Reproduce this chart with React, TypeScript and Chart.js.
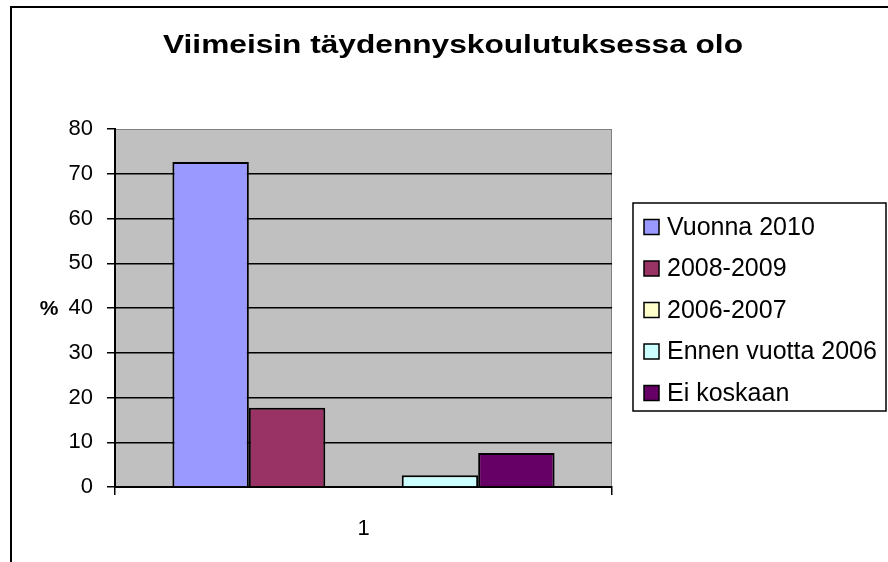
import React, { useEffect, useRef } from "react";
import { Chart, registerables } from "chart.js";

Chart.register(...registerables);

const TITLE = "Viimeisin täydennyskoulutuksessa olo";
const CATEGORIES = ["1"];
const SERIES_NAMES = ["Vuonna 2010", "2008-2009", "2006-2007", "Ennen vuotta 2006", "Ei koskaan"];
const SERIES_VALUES = [[72.6], [17.7], [0], [2.6], [7.6]];
const SERIES_COLORS = ["#9999FF", "#993366", "#FFFFCC", "#CCFFFF", "#660066"];
const Y_MIN = 0;
const Y_MAX = 80;
const Y_STEP = 10;
const Y_TITLE = "%";

const FONT = "Arial, 'Liberation Sans', sans-serif";

const decorPlugin = {
  id: "decor",
  beforeDraw(chart: any) {
    const { ctx, chartArea } = chart;
    ctx.save();
    ctx.fillStyle = "#C0C0C0";
    ctx.fillRect(chartArea.left, chartArea.top, chartArea.right - chartArea.left, chartArea.bottom - chartArea.top);
    ctx.strokeStyle = "#808080";
    ctx.lineWidth = 1;
    ctx.strokeRect(chartArea.left + 0.5, chartArea.top + 0.5, chartArea.right - chartArea.left - 1, chartArea.bottom - chartArea.top);
    ctx.restore();
  },
  afterDraw(chart: any) {
    const { ctx } = chart;
    ctx.save();
    // outer frame
    ctx.strokeStyle = "#000";
    ctx.lineWidth = 2;
    ctx.strokeRect(11, 7, 1000, 1000);

    // title (wide bold face)
    ctx.fillStyle = "#000";
    ctx.font = `bold 26px ${FONT}`;
    ctx.textBaseline = "alphabetic";
    ctx.textAlign = "left";
    const w = ctx.measureText(TITLE).width;
    const targetW = 580;
    const sx = targetW / w;
    ctx.save();
    ctx.translate(453 - targetW / 2, 53);
    ctx.scale(sx, 1);
    ctx.fillText(TITLE, 0, 0);
    ctx.restore();

    // y axis title
    const yScale = chart.scales.y;
    ctx.font = `bold 21px ${FONT}`;
    ctx.textAlign = "center";
    ctx.textBaseline = "middle";
    ctx.fillText(Y_TITLE, 49, yScale.getPixelForValue(40) + 1);

    // legend
    const lx = 633, ly = 203, lw = 253, lh = 208;
    ctx.fillStyle = "#fff";
    ctx.fillRect(lx, ly, lw, lh);
    ctx.strokeStyle = "#000";
    ctx.lineWidth = 1.5;
    ctx.strokeRect(lx, ly, lw, lh);
    ctx.font = `25px ${FONT}`;
    ctx.textAlign = "left";
    ctx.textBaseline = "middle";
    SERIES_NAMES.forEach((name, i) => {
      const cy = 227 + i * 41.5;
      ctx.fillStyle = SERIES_COLORS[i];
      ctx.fillRect(644, cy - 7.5, 15, 15);
      ctx.strokeStyle = "#000";
      ctx.lineWidth = 1.5;
      ctx.strokeRect(644, cy - 7.5, 15, 15);
      ctx.fillStyle = "#000";
      ctx.fillText(name, 667, cy + 1);
    });
    ctx.restore();
  },
};

export default function App() {
  const ref = useRef<HTMLCanvasElement>(null);
  useEffect(() => {
    document.body.style.margin = "0";
    const chart = new Chart(ref.current!, {
      type: "bar",
      data: {
        labels: CATEGORIES,
        datasets: SERIES_NAMES.map((name, i) => ({
          label: name,
          data: SERIES_VALUES[i],
          backgroundColor: SERIES_COLORS[i],
          borderColor: "#000",
          borderWidth: 2,
          categoryPercentage: 0.769,
          barPercentage: 1,
        })),
      },
      options: {
        animation: false,
        responsive: false,
        layout: { padding: { left: 0, top: 129, right: 276, bottom: 0 } },
        plugins: {
          legend: { display: false },
          title: { display: false },
          tooltip: { enabled: false },
        },
        scales: {
          x: {
            afterFit(scale: any) {
              scale.height = 75;
            },
            grid: {
              drawOnChartArea: false,
              drawTicks: true,
              tickLength: 8,
              color: "#000",
              lineWidth: 1.5,
            },
            border: { color: "#000", width: 2 },
            ticks: { color: "#000", font: { size: 22, family: FONT }, padding: 21 },
          },
          y: {
            min: Y_MIN,
            max: Y_MAX,
            afterFit(scale: any) {
              scale.width = 115;
            },
            grid: {
              color: (c: any) => (c.tick && c.tick.value === Y_MAX ? "rgba(0,0,0,0)" : "#000"),
              tickColor: "#000",
              lineWidth: 1.5,
              tickLength: 8,
            },
            border: { color: "#000", width: 2 },
            ticks: { stepSize: Y_STEP, color: "#000", font: { size: 22, family: FONT }, padding: 14 },
          },
        },
      },
      plugins: [decorPlugin],
    });
    return () => chart.destroy();
  }, []);
  return <canvas ref={ref} width={888} height={562} style={{ display: "block" }} />;
}
